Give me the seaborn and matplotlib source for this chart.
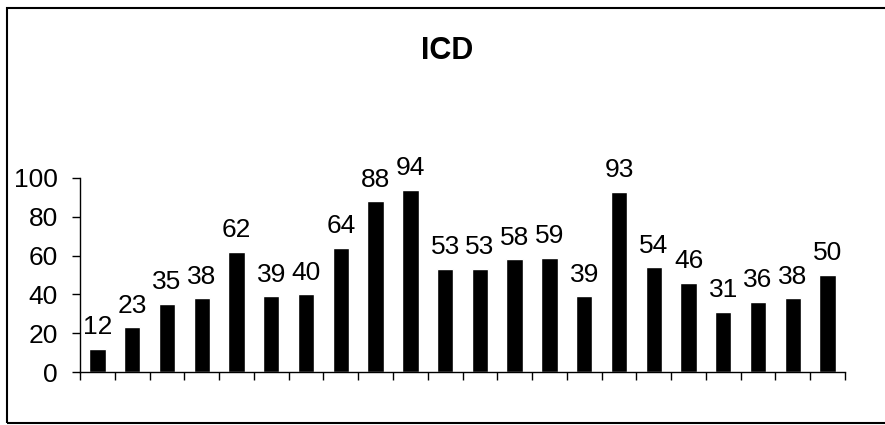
import matplotlib
matplotlib.use("Agg")
import matplotlib.pyplot as plt
from matplotlib.patches import Rectangle
import seaborn as sns

# bar values, left to right
categories = [str(i) for i in range(1, 23)]
values = [12, 23, 35, 38, 62, 39, 40, 64, 88, 94, 53, 53, 58, 59, 39, 93, 54, 46, 31, 36, 38, 50]
y_ticks = [0, 20, 40, 60, 80, 100]
title = "ICD"

sns.set_style("white")
plt.rcParams['font.family'] = ['Liberation Sans', 'DejaVu Sans']
plt.rcParams['text.color'] = 'black'
plt.rcParams['xtick.color'] = 'black'
plt.rcParams['ytick.color'] = 'black'
plt.rcParams['axes.labelcolor'] = 'black'

fig = plt.figure(figsize=(8.85, 4.25), dpi=100)
ax = fig.add_axes([80 / 885, 1 - 372 / 425, (845 - 80) / 885, (372 - 178) / 425])

sns.barplot(x=categories, y=values, color="black", saturation=1, width=0.47, ax=ax)

ax.set_xlim(-0.5, len(categories) - 0.5)
ax.set_ylim(0, 100)
ax.set_yticks(y_ticks)
ax.set_xticks([])
ax.set_xticks([i - 0.5 for i in range(len(categories) + 1)], minor=True)
ax.tick_params(axis="x", which="minor", direction="out", length=6, width=1, color="black", bottom=True)
ax.tick_params(axis="y", direction="out", length=6, width=1, color="black", left=True,
               labelsize=19, pad=10, labelcolor="black")
ax.set_xlabel("")
ax.set_ylabel("")

for s in ["top", "right"]:
    ax.spines[s].set_visible(False)
for s in ["left", "bottom"]:
    ax.spines[s].set_color("black")
    ax.spines[s].set_linewidth(1)

# value labels above bars
for i, v in enumerate(values):
    ax.annotate(str(v), (i, v), xytext=(0, 7), textcoords="offset points",
                ha="center", va="bottom", fontsize=19, color="black", annotation_clip=False)

fig.text(0.505, 1 - 51 / 425, title, ha="center", va="center", fontsize=22,
         fontweight="bold", color="black")

# chart area frame (right edge cut off in the reference)
fig.patches.append(Rectangle((7 / 885, 2 / 425), 1.0, 415 / 425, transform=fig.transFigure,
                             fill=False, edgecolor="black", linewidth=1.5))

fig.savefig("out.png", dpi=100)
